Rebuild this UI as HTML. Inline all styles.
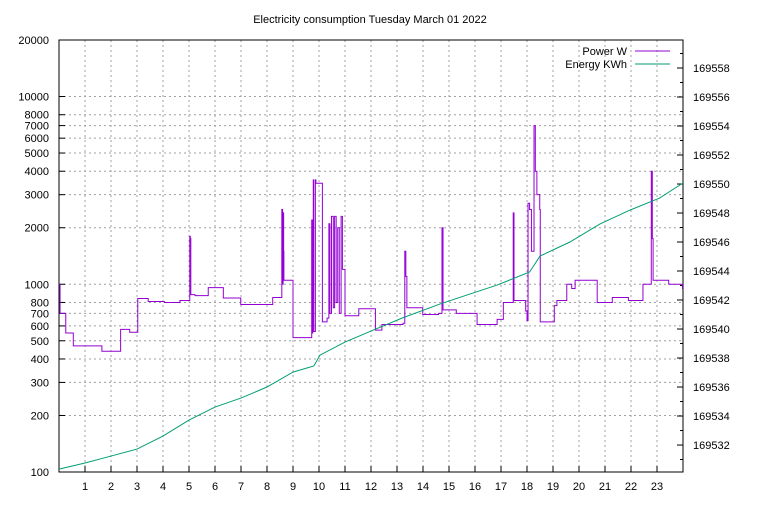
<!DOCTYPE html>
<html><head><meta charset="utf-8"><style>
body{margin:0;background:#fff;}
svg text{font-family:"Liberation Sans",sans-serif;font-size:11px;fill:#000;}
</style></head><body>
<svg id="chart" width="768" height="500" xmlns="http://www.w3.org/2000/svg">
<text x="370" y="23" text-anchor="middle">Electricity consumption Tuesday March 01 2022</text>
<g id="grid"></g><g id="axes"></g><g id="series"></g>
<g>
<text x="627" y="55" text-anchor="end">Power W</text>
<line x1="635" y1="51" x2="670" y2="51" stroke="#9400d3" stroke-width="1"/>
<text x="627" y="68" text-anchor="end">Energy KWh</text>
<line x1="635" y1="64" x2="670" y2="64" stroke="#009e73" stroke-width="1"/>
</g>
</svg>
<script>
const powerHours=[0,0.04,0.26,0.55,1.65,2.37,2.72,3.03,3.43,4.05,4.65,5.03,5.05,5.07,5.23,5.74,6.32,6.99,8.22,8.57,8.6,8.62,8.64,8.65,9.0,9.72,9.74,9.76,9.78,9.8,9.86,9.88,10.13,10.31,10.38,10.42,10.48,10.55,10.6,10.66,10.72,10.78,10.85,10.9,11.0,11.53,12.17,12.42,13.23,13.3,13.34,13.38,13.99,14.6,14.73,14.77,15.28,16.08,16.85,17.09,17.47,17.5,17.95,18.0,18.04,18.1,18.17,18.27,18.32,18.38,18.49,18.51,19.05,19.15,19.53,19.72,19.85,20.7,21.28,21.9,22.46,22.78,22.82,22.85,23.45,23.98];
const powerWatts=[1000,700,550,470,440,575,555,840,810,800,820,1800,1750,880,870,960,845,780,850,2500,1000,2400,1500,1050,520,2200,550,900,3600,560,3600,3450,630,660,2100,700,2300,750,2300,800,2000,700,2300,1200,680,740,570,610,620,1500,1100,750,690,700,2000,730,700,610,650,800,2400,820,720,640,2700,2500,1500,7000,4000,3000,2500,630,770,820,1000,950,1050,800,850,820,1000,4000,1750,1050,1000,950];
const energyHours=[0,1,2,3,4,5,6,7,8,9,9.8,10.04,11,12,13.2,14.65,15.8,16.85,18.1,18.5,19.65,20.8,21.96,23.1,24];
const energyKWh=[169530.34,169530.76,169531.24,169531.72,169532.62,169533.72,169534.62,169535.24,169536.0,169537.03,169537.45,169538.2,169539.1,169539.86,169540.76,169541.72,169542.41,169543.03,169543.93,169545.03,169546.0,169547.24,169548.2,169549.03,169550.07];
const leftTicks=[100,200,300,400,500,600,700,800,1000,2000,3000,4000,5000,6000,7000,8000,10000,20000];
const rightTicks=[169532,169534,169536,169538,169540,169542,169544,169546,169548,169550,169552,169554,169556,169558];
const xTicks=[1,2,3,4,5,6,7,8,9,10,11,12,13,14,15,16,17,18,19,20,21,22,23];
const L=59,R=683,T=40,B=472;
const xs=h=>L+(R-L)*h/24;
const ys=w=>B-(B-T)*(Math.log10(w)-2)/(Math.log10(20000)-2);
const y2min=169530.14,y2max=169559.93;
const y2s=v=>B-(B-T)*(v-y2min)/(y2max-y2min);
const NS="http://www.w3.org/2000/svg";
function mk(tag,parent,attrs){const e=document.createElementNS(NS,tag);for(const k in attrs)e.setAttribute(k,attrs[k]);parent.appendChild(e);return e;}
const grid=document.getElementById('grid'),axes=document.getElementById('axes'),series=document.getElementById('series');
leftTicks.forEach(t=>{const y=ys(t);
 if(t!==100&&t!==20000){const g=mk('line',grid,{x1:L,x2:R,y1:y,y2:y,stroke:'#a0a0a0','stroke-dasharray':'2,3'});
 
 }
 const tk=mk('line',axes,{x1:L,x2:L+6,y1:y,y2:y,stroke:'#000'});
 
 
 const tx=mk('text',axes,{x:L-10,y:y+4,'text-anchor':'end'});tx.textContent=t;
 
 
});
for(let v=169531;v<=169559;v++){const y=y2s(v);const major=v%2===0;
 const tk=mk('line',axes,{x1:R-(major?6:3),x2:R,y1:y,y2:y,stroke:'#000'});
 
 }
rightTicks.forEach(t=>{const tx=mk('text',axes,{x:693,y:y2s(t)+4});tx.textContent=t;
 
 });
xTicks.forEach(t=>{const x=xs(t);
 const g=mk('line',grid,{x1:x,x2:x,y1:T,y2:B,stroke:'#a0a0a0','stroke-dasharray':'2,3'});
 
 
 const tk=mk('line',axes,{x1:x,x2:x,y1:B,y2:B-6,stroke:'#000'});
 
 
 const tx=mk('text',axes,{x:x,y:490,'text-anchor':'middle'});tx.textContent=t;
 
 });
const frame=mk('rect',axes,{x:L,y:T,width:R-L,height:B-T,fill:'none',stroke:'#000'});


let d='';
powerHours.forEach((h,i)=>{const x=xs(h),y=ys(powerWatts[i]);
 if(i===0)d+='M'+x+','+y;else d+='H'+x+'V'+y;});
d+='H'+xs(24);
const pw=mk('path',series,{d:d,fill:'none',stroke:'#9400d3','stroke-width':1});


const ep=energyHours.map((h,i)=>xs(h)+','+y2s(energyKWh[i])).join(' ');
const en=mk('polyline',series,{points:ep,fill:'none',stroke:'#009e73','stroke-width':1});


</script>
</body></html>
